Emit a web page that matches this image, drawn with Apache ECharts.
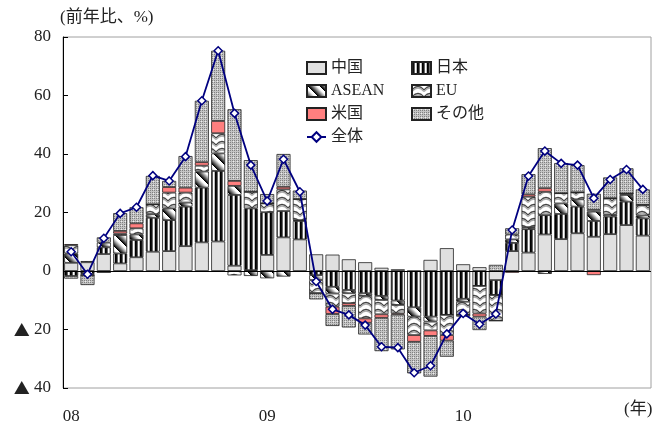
<!DOCTYPE html>
<html>
<head>
<meta charset="utf-8">
<script src="https://cdn.jsdelivr.net/npm/echarts@6/dist/echarts.min.js"></script>
<style>
  html, body { margin: 0; padding: 0; background: #fff; }
  #main { width: 656px; height: 425px; }
</style>
</head>
<body>
<div id="main"></div>
<script>
var months = ['2008/01','2008/02','2008/03','2008/04','2008/05','2008/06','2008/07','2008/08','2008/09','2008/10','2008/11','2008/12',
              '2009/01','2009/02','2009/03','2009/04','2009/05','2009/06','2009/07','2009/08','2009/09','2009/10','2009/11','2009/12',
              '2010/01','2010/02','2010/03','2010/04','2010/05','2010/06','2010/07','2010/08','2010/09','2010/10','2010/11','2010/12'];

// contributions by region (percentage points)
var china = [2.8, 3.0, 5.8, 2.6, 4.7, 6.6, 6.8, 8.5, 9.8, 10.1, 1.8, 0.3,
             5.5, 11.5, 10.8, 5.7, 5.6, 4.0, 3.0, 1.1, 0.6, 0, 3.8, 7.8,
             2.3, 1.3, -3.1, 6.8, 6.3, 12.5, 10.9, 12.9, 11.7, 12.6, 15.7, 12.1];
var japan = [-1.7, 0.4, 2.3, 3.4, 5.9, 11.6, 10.6, 13.5, 18.7, 24.1, 24.2, 21.1,
             14.6, 9.0, 6.3, -1.4, -5.4, -6.5, -7.6, -8.5, -10.1, -12.4, -15.6, -15.0,
             -9.5, -5.1, -5.1, 2.8, 8.0, 6.6, 8.6, 9.1, 5.4, 6.0, 8.0, 5.9];
var asean = [3.2, -1.0, 1.6, 6.3, 1.9, 1.2, 4.0, 1.4, 5.5, 6.0, 3.1, -1.7,
             -2.5, -1.9, 0.3, -1.7, -2.3, -1.1, -0.9, -1.4, -1.5, -3.2, -1.7, 0,
             -1.0, 0, 0, 1.2, 0.7, -1.0, 3.6, 2.5, 3.2, 0.6, 2.3, 1.0];
var eu = [2.8, -0.5, -0.4, 0.5, 2.1, 3.4, 5.4, 3.4, 2.0, 6.9, -1.5, 5.7,
          3.0, 7.4, 7.2, -4.5, -4.5, -3.4, -7.7, -4.9, -2.9, -6.3, -3.0, -6.9,
          -4.5, -9.4, -8.8, 1.7, 10.4, 8.0, 3.5, 2.4, 0.6, 5.7, 0.5, 3.6];
var usa = [0.4, 0, 0, 0.9, 1.7, 0, 1.9, 1.7, 1.2, 4.2, 1.7, 0,
           0, 0.9, 0, 0, -2.5, -0.9, -1.5, -1.2, -0.4, -2.3, -1.9, -1.9,
           0, -1.1, 0, -0.6, 0.8, 1.2, 0, 0, -1.4, 0, 0, 0];
var other = [-0.9, -3.3, 1.8, 6.1, 5.5, 9.7, 2.1, 10.8, 21.0, 24.0, 24.5, 10.8,
             3.2, 11.2, 2.9, -2.1, -4.1, -7.4, -4.0, -11.4, -11.9, -10.8, -13.9, -5.5,
             -0.6, -4.6, 2.1, 2.1, 6.9, 13.7, 10.3, 9.3, 5.5, 7.1, 8.6, 5.3];
var total = [6.6, -1.1, 11.2, 19.7, 21.8, 32.6, 30.8, 39.1, 58.2, 75.3, 53.9, 36.2,
             23.9, 38.2, 27.1, -3.6, -13.1, -15.0, -18.5, -25.9, -26.2, -34.8, -32.4, -21.5,
             -14.5, -18.2, -14.7, 14.0, 32.5, 41.0, 36.8, 36.2, 24.9, 31.3, 34.7, 27.9];

var FONT = "'Liberation Serif', 'Noto Sans CJK JP', serif";

function tile(w, h, draw) {
    var c = document.createElement('canvas');
    c.width = w; c.height = h;
    draw(c.getContext('2d'), w, h);
    return { image: c, repeat: 'repeat' };
}

// vertical black/white stripes
var japanFill = tile(5, 4, function (ctx) {
    var cols = ['#000', '#111', '#666', '#fff', '#bbb'];
    for (var i = 0; i < cols.length; i++) {
        ctx.fillStyle = cols[i];
        ctx.fillRect(i, 0, 1, 4);
    }
});

// diagonal shaded stripes
var aseanFill = tile(12, 12, function (ctx, w, h) {
    var img = ctx.createImageData(w, h);
    for (var y = 0; y < h; y++) {
        for (var x = 0; x < w; x++) {
            var t = (((x - y) % w) + w) % w / w;
            var g = Math.round(255 * Math.min(1, t * 1.4));
            var k = (y * w + x) * 4;
            img.data[k] = g; img.data[k + 1] = g; img.data[k + 2] = g; img.data[k + 3] = 255;
        }
    }
    ctx.putImageData(img, 0, 0);
});

// wavy lines
var euFill = tile(12, 7, function (ctx) {
    ctx.fillStyle = '#fff';
    ctx.fillRect(0, 0, 12, 7);
    ctx.lineWidth = 1.3;
    ctx.strokeStyle = '#444';
    ctx.beginPath();
    ctx.moveTo(0, 5); ctx.quadraticCurveTo(6, -2, 12, 5);
    ctx.stroke();
    ctx.strokeStyle = '#aaa';
    ctx.beginPath();
    ctx.moveTo(0, 6.5); ctx.quadraticCurveTo(6, -0.5, 12, 6.5);
    ctx.stroke();
});

// dotted gray
var otherFill = tile(4, 4, function (ctx) {
    ctx.fillStyle = '#c4c4c4';
    ctx.fillRect(0, 0, 4, 4);
    ctx.fillStyle = '#808080';
    ctx.fillRect(0, 0, 1, 1); ctx.fillRect(2, 2, 1, 1);
    ctx.fillRect(2, 0, 1, 1); ctx.fillRect(0, 2, 1, 1);
    ctx.fillStyle = '#eee';
    ctx.fillRect(1, 1, 1, 1);
});

function barSeries(name, data, fill) {
    return {
        name: name,
        type: 'bar',
        stack: 'all',
        barWidth: 14,
        data: data,
        itemStyle: { color: fill, borderColor: '#222', borderWidth: 0.8 }
    };
}

var chart = echarts.init(document.getElementById('main'));

var series = [
    barSeries('中国', china, '#e0e0e0'),
    barSeries('日本', japan, japanFill),
    barSeries('ASEAN', asean, aseanFill),
    barSeries('EU', eu, euFill),
    barSeries('米国', usa, '#ff7f7f'),
    barSeries('その他', other, otherFill),
    {
        name: '全体',
        type: 'line',
        data: total,
        symbol: 'diamond',
        symbolSize: 8,
        lineStyle: { color: '#000080', width: 1.8 },
        itemStyle: { color: '#fff', borderColor: '#000080', borderWidth: 1.5 },
        z: 5
    }
];
series[0].markLine = {
    silent: true,
    symbol: 'none',
    label: { show: false },
    lineStyle: { color: '#000', width: 1, type: 'solid' },
    data: [{ yAxis: 0 }]
};

var legendText = { fontFamily: FONT, fontSize: 16, color: '#222' };

var option = {
    animation: false,
    textStyle: { fontFamily: FONT },
    grid: {
        left: 63, right: 5, top: 37, bottom: 37,
        show: true, borderColor: '#a0a0a0', borderWidth: 1
    },
    legend: [
        {
            data: [
                { name: '中国', icon: 'rect' },
                { name: 'ASEAN', icon: 'rect' },
                { name: '米国', icon: 'rect' },
                { name: '全体' }
            ],
            orient: 'vertical', left: 301, top: 55,
            itemWidth: 19, itemHeight: 12, itemGap: 7,
            textStyle: legendText
        },
        {
            data: [
                { name: '日本', icon: 'rect' },
                { name: 'EU', icon: 'rect' },
                { name: 'その他', icon: 'rect' }
            ],
            orient: 'vertical', left: 406, top: 55,
            itemWidth: 19, itemHeight: 12, itemGap: 7,
            textStyle: legendText
        }
    ],
    xAxis: {
        type: 'category',
        data: months,
        axisLine: { show: false },
        axisTick: { show: false },
        axisLabel: {
            interval: function (i) { return i % 12 === 0; },
            formatter: function (v) { return v.slice(2, 4); },
            margin: 20,
            fontSize: 17,
            color: '#222',
            fontFamily: FONT
        }
    },
    yAxis: {
        type: 'value',
        min: -40, max: 80, interval: 20,
        axisLine: { show: true, lineStyle: { color: '#000' } },
        axisTick: { show: true, inside: true, length: 5, lineStyle: { color: '#000' } },
        splitLine: { show: false },
        axisLabel: {
            margin: 12,
            fontSize: 17,
            color: '#222',
            fontFamily: FONT,
            formatter: function (v) { return v < 0 ? '{tri|▲} ' + (-v) : String(v); },
            rich: {
                tri: { fontFamily: "'Noto Sans CJK JP'", fontSize: 16, color: '#222' }
            }
        }
    },
    graphic: [
        { type: 'text', left: 60, top: 9, style: { text: '(前年比、%)', font: '17px ' + FONT, fill: '#222' } },
        { type: 'text', left: 624, top: 401, style: { text: '(年)', font: '17px ' + FONT, fill: '#222' } }
    ],
    series: series
};

chart.setOption(option);
</script>
</body>
</html>
